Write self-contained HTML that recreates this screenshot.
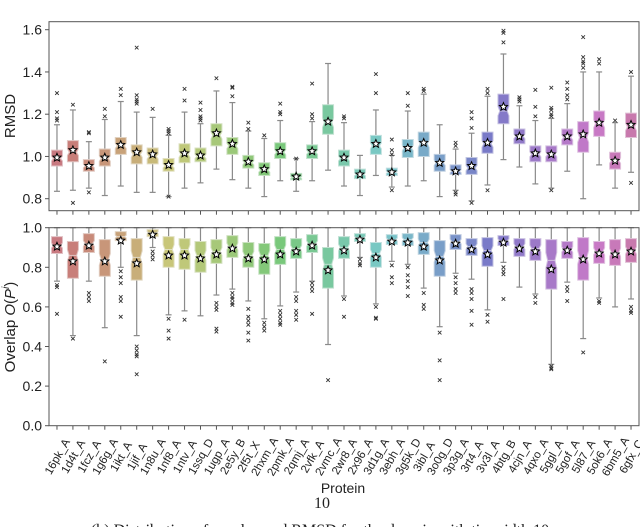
<!DOCTYPE html>
<html><head><meta charset="utf-8">
<style>
html,body{margin:0;padding:0;background:#fff;}
svg{display:block;font-family:"Liberation Sans",sans-serif;}
</style></head>
<body>
<svg id="chart" width="640" height="527" viewBox="0 0 640 527" xmlns="http://www.w3.org/2000/svg">
</svg>
<script>
const proteins = ["16pk_A","1d4t_A","1fcz_A","1g6g_A","1ikt_A","1jif_A","1n8u_A","1nf8_A","1ntv_A","1ssq_D","1ugp_A","2e5y_B","2f5t_X","2hxm_A","2pmk_A","2qmj_A","2vfk_A","2vmc_A","2wr8_A","2x96_A","3d1g_A","3ebh_A","3g5k_D","3ibl_A","3o0g_D","3p3g_A","3rt4_A","3v3l_A","4btg_B","4cjn_A","4qxo_A","5ggl_A","5gof_A","5l87_A","5ok6_A","6bm5_A","6gfx_C"];
// RMSD stats: [whislo, q1, median, q3, whishi]
const rmsdStats = [[.835,.955,.99,1.03,1.15],[.84,.975,1.02,1.075,1.22],[.85,.93,.955,.985,1.07],[.815,.955,.99,1.035,1.175],[.86,1.01,1.05,1.09,1.26],[.83,.965,1.01,1.055,1.21],[.83,.965,1.0,1.04,1.185],[.81,.93,.955,.99,1.10],[.85,.97,1.01,1.06,1.21],[.875,.975,1.0,1.04,1.155],[.94,1.05,1.10,1.155,1.31],[.89,1.01,1.05,1.09,1.255],[.85,.945,.97,1.005,1.12],[.81,.91,.935,.97,1.085],[.885,.99,1.02,1.065,1.17],[.835,.89,.90,.92,.99],[.885,.99,1.02,1.055,1.165],[.935,1.105,1.16,1.245,1.44],[.86,.955,.99,1.03,1.16],[.815,.895,.915,.94,1.005],[.91,1.01,1.05,1.10,1.22],[.855,.91,.925,.945,1.005],[.86,.995,1.04,1.08,1.215],[.885,1.0,1.06,1.115,1.295],[.81,.93,.97,1.01,1.15],[.84,.915,.93,.96,1.035],[.79,.915,.945,.995,1.11],[.865,1.015,1.06,1.115,1.285],[.985,1.155,1.215,1.295,1.485],[.95,1.06,1.095,1.13,1.24],[.87,.975,1.01,1.05,1.17],[.85,.975,1.01,1.05,1.18],[.93,1.055,1.09,1.13,1.25],[.80,1.02,1.09,1.165,1.40],[.96,1.095,1.155,1.215,1.40],[.85,.94,.98,1.02,1.16],[.925,1.09,1.14,1.205,1.38]];
const rmsdMeans = [.995,1.03,.955,.995,1.055,1.02,1.01,.96,1.015,1.005,1.11,1.06,.975,.94,1.025,.905,1.025,1.165,.995,.915,1.06,.925,1.04,1.065,.97,.93,.955,1.065,1.235,1.095,1.015,1.01,1.095,1.105,1.16,.98,1.15];
const rmsdOutliers = [[1.17,1.18,1.21,1.30],[1.245,.78],[1.11,1.115,.83],[1.19,1.225],[1.29,1.32],[1.25,1.26,1.27,1.29,1.515],[1.225],[1.11,1.12,1.13,.81],[1.265,1.32],[1.17,1.18,1.19,1.22,1.255],[1.37],[1.285,1.325,1.33],[1.13,1.16],[1.10],[1.2,1.21,1.25],[.99],[1.18,1.2,1.345],[],[1.18,1.19],[],[1.3,1.39],[1.01,1.03,1.08,.84],[1.24,1.30],[1.31,1.32],[],[1.05,1.065,.82,.83],[1.135,1.18,1.21,.78],[1.30,1.32,.84],[1.54,1.585,1.595],[1.26,1.27,1.28],[1.19,1.235,1.315],[1.19,1.2,1.22,1.23,1.325,.84],[1.27,1.29,1.32,1.35],[1.42,1.44,1.45,1.47,1.565],[1.44,1.46],[1.17],[1.40,.875]];
// Overlap stats
const ovStats = [[.73,.87,.91,.955,1],[.455,.745,.86,.93,1],[.73,.875,.92,.97,1],[.495,.755,.84,.94,1],[.80,.935,.955,.98,1],[.455,.735,.85,.945,1],[.90,.955,.975,.99,1],[.56,.80,.89,.955,1],[.58,.79,.89,.945,1],[.555,.775,.86,.93,1],[.66,.82,.88,.94,1],[.69,.85,.905,.96,1],[.63,.80,.86,.925,1],[.54,.765,.86,.92,1],[.605,.815,.89,.955,1],[.675,.845,.895,.945,1],[.73,.875,.92,.965,1],[.41,.695,.815,.90,1],[.655,.845,.90,.955,1],[.85,.93,.95,.97,1],[.615,.80,.87,.925,1],[.83,.915,.94,.965,1],[.815,.91,.94,.97,1],[.695,.865,.925,.975,1],[.50,.755,.855,.935,1],[.77,.89,.93,.965,1],[.74,.86,.905,.945,1],[.585,.805,.885,.95,1],[.825,.91,.935,.96,1],[.70,.855,.905,.945,1],[.665,.835,.895,.945,1],[.31,.69,.835,.94,1],[.725,.845,.89,.93,1],[.44,.735,.85,.95,1],[.645,.82,.88,.93,1],[.60,.81,.875,.94,1],[.64,.825,.885,.945,1]];
const ovMeans = [.905,.83,.91,.83,.935,.82,.965,.86,.86,.845,.865,.895,.845,.84,.865,.88,.91,.785,.885,.94,.85,.93,.925,.905,.835,.92,.89,.865,.925,.895,.88,.79,.885,.84,.87,.865,.88];
const ovOutliers = [[.71,.70,.565],[.44],[.67,.65,.63],[.325],[.78,.75,.72,.65,.63,.55],[.40,.38,.36,.35,.26],[.88,.86,.84],[.54,.48,.44],[.535],[],[.62,.60,.585,.49,.475],[.67,.65,.64,.62,.61],[.59,.55,.53,.51,.47,.43],[.52,.50,.48],[.58,.56,.54,.52,.51],[.65,.63,.58,.56,.535],[.72,.70,.68,.565],[.23],[.64,.55],[.84,.82,.81],[.60,.545,.54],[.81,.75,.72],[.80,.76,.73,.70,.655],[.67,.61,.59],[.47,.33,.23],[.75,.72,.69,.67],[.69,.67,.64,.58,.51],[.56,.525],[.80,.78,.765,.64],[],[.65,.62],[.30,.29,.285],[.70,.68,.63],[.37],[.63,.62],[],[.60,.58,.57]];
const rmsdTicks = [0.8,1.0,1.2,1.4,1.6];
const ovTicks = [0.0,0.2,0.4,0.6,0.8,1.0];

const NS="http://www.w3.org/2000/svg";
const svg=document.getElementById('chart');
function mk(tag,attrs,parent){const e=document.createElementNS(NS,tag);for(const k in attrs)e.setAttribute(k,attrs[k]);(parent||svg).appendChild(e);return e;}

const X0=49, X1=639;
const n=proteins.length;
const step=(X1-X0)/n;
function xPos(i){return X0+step*(i+0.5);}
const yR=v=>29.7+(1.6-v)*211.25;
const yO=v=>425.7-v*198;
function hue(i){return (355+i*(360/n)*0.93)%360;}
function color(i){return `hsl(${hue(i)},42%,63%)`;}
function edge(i){return `hsl(${hue(i)},35%,82%)`;}

function star(cx,cy,r,parent){let pts=[];for(let k=0;k<10;k++){const a=-Math.PI/2+k*Math.PI/5;const rr=k%2?r*0.45:r;pts.push((cx+rr*Math.cos(a)).toFixed(2)+','+(cy+rr*Math.sin(a)).toFixed(2));}
 return mk('polygon',{points:pts.join(' '),fill:'#fff',stroke:'#000','stroke-width':1},parent);}

function panel(name,top,bottom,yf,stats,means,outs,ticks,label,labelY){
 const g=mk('g',{});
 
 
 const bw=11;
 stats.forEach((s,i)=>{
  const cx=xPos(i);
  const bg=mk('g',{},g);
  
  
  mk('line',{x1:cx,x2:cx,y1:yf(s[0]),y2:yf(s[1]),stroke:'#8a8a8a','stroke-width':1.2},bg);
  mk('line',{x1:cx,x2:cx,y1:yf(s[3]),y2:yf(s[4]),stroke:'#8a8a8a','stroke-width':1.2},bg);
  mk('line',{x1:cx-3,x2:cx+3,y1:yf(s[0]),y2:yf(s[0]),stroke:'#8a8a8a','stroke-width':1.2},bg);
  mk('line',{x1:cx-3,x2:cx+3,y1:yf(s[4]),y2:yf(s[4]),stroke:'#8a8a8a','stroke-width':1.2},bg);
  const iqr=s[3]-s[1];let nh=1.57*iqr/10;
  const lo=Math.max(s[1],s[2]-nh),hi=Math.min(s[3],s[2]+nh);
  const L=cx-bw/2,R=cx+bw/2,inL=cx-bw/2+1.8,inR=cx+bw/2-1.8;
  const p=[[L,yf(s[1])],[R,yf(s[1])],[R,yf(lo)],[inR,yf(s[2])],[R,yf(hi)],[R,yf(s[3])],[L,yf(s[3])],[L,yf(hi)],[inL,yf(s[2])],[L,yf(lo)]];
  mk('polygon',{points:p.map(q=>q[0].toFixed(2)+','+q[1].toFixed(2)).join(' '),fill:color(i),stroke:edge(i),'stroke-width':1},bg);
  mk('line',{x1:inL,x2:inR,y1:yf(s[2]),y2:yf(s[2]),stroke:edge(i),'stroke-width':1},bg);
  outs[i].forEach(v=>{const y=yf(v);
   mk('path',{d:`M${cx-1.8},${y-1.8}L${cx+1.8},${y+1.8}M${cx-1.8},${y+1.8}L${cx+1.8},${y-1.8}`,stroke:'#333','stroke-width':0.9},bg);});
  const st=star(cx,yf(means[i]),4.2,bg);
  
  
 });
 const fr=mk('rect',{x:X0,y:top,width:X1-X0,height:bottom-top,fill:'none',stroke:'#555','stroke-width':1},g);
 
 
 ticks.forEach(t=>{const y=yf(t);
  mk('line',{x1:X0-4,x2:X0,y1:y,y2:y,stroke:'#555'},g);
  const tx=mk('text',{x:X0-7,y:y+5,'text-anchor':'end','font-size':14,fill:'#222'},g);
  tx.textContent=t.toFixed(1);
  
  
 });
 proteins.forEach((p,i)=>{mk('line',{x1:xPos(i),x2:xPos(i),y1:bottom,y2:bottom+4,stroke:'#555'},g);});
 const yl=mk('text',{transform:`translate(15,${labelY}) rotate(-90)`,'text-anchor':'middle','font-size':15,fill:'#222'},g);
 yl.innerHTML=label;
 
 
}
panel('rmsd',21.7,210.7,yR,rmsdStats,rmsdMeans,rmsdOutliers,rmsdTicks,'RMSD',116);
panel('overlap',227.7,425.7,yO,ovStats,ovMeans,ovOutliers,ovTicks,'Overlap <tspan font-style="italic">O</tspan>(<tspan font-style="italic">P</tspan><tspan font-size="10" dy="-6" font-style="italic">i</tspan><tspan dy="6">)</tspan>',327);

proteins.forEach((p,i)=>{
 const x=xPos(i)+1,y=457;
 const t=mk('text',{transform:`translate(${x.toFixed(1)},${y}) rotate(-60)`,'text-anchor':'middle','dominant-baseline':'central','font-size':11.5,fill:'#222'});
 t.textContent=p;
 
 
});
const xt=mk('text',{x:343,y:493,'text-anchor':'middle','font-size':14,fill:'#222'});
xt.textContent='Protein';


const pg=mk('text',{x:322,y:508,'text-anchor':'middle','font-size':16,fill:'#222','font-family':'Liberation Serif, serif'});
pg.textContent='10';


const cap=mk('text',{x:320,y:535,'text-anchor':'middle','font-size':16,fill:'#222','font-family':'Liberation Serif, serif'});
cap.textContent='(b) Distribution of overlap and RMSD for the domain with tie-width 10';


</script>
</body></html>
